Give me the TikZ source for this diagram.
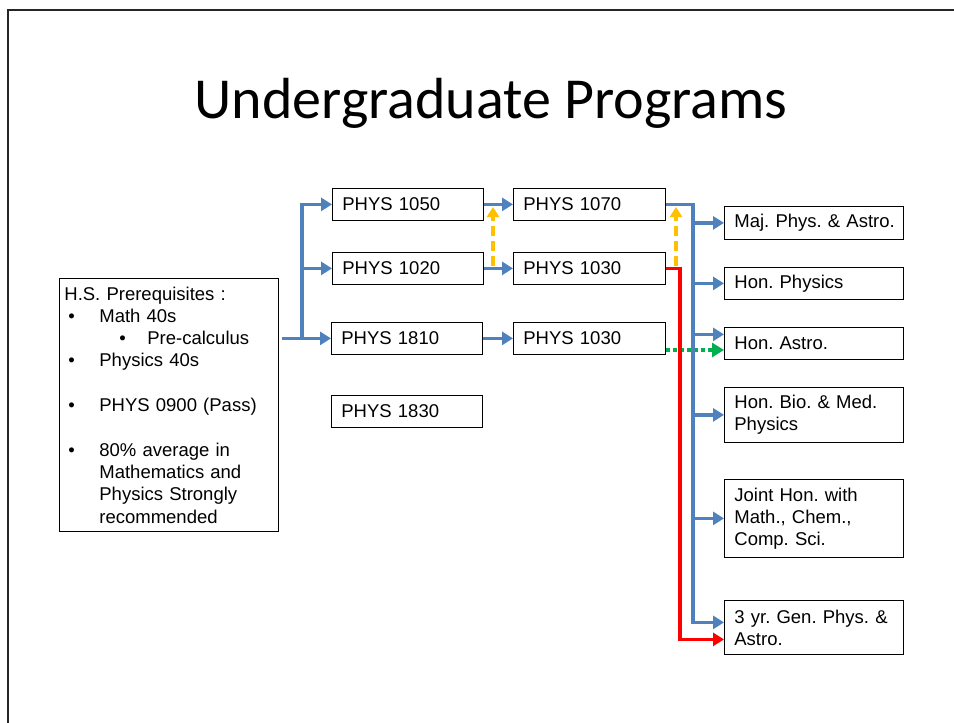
\documentclass[tikz,border=0pt]{standalone}
\usepackage{fontspec}
\setmainfont{Liberation Sans}
\newfontfamily\titlefont{Carlito}
\usetikzlibrary{arrows.meta,calc}
\definecolor{flowblue}{HTML}{4F81BD}
\definecolor{flowred}{HTML}{FF0000}
\definecolor{flowyellow}{HTML}{FFC000}
\definecolor{flowgreen}{HTML}{00B050}
\frenchspacing
\hyphenpenalty=10000
\exhyphenpenalty=10000
\hbadness=10000
\hfuzz=20pt
\begin{document}
\begin{tikzpicture}[x=1pt,y=-1pt,
  box/.style={draw=black, line width=0.8pt, anchor=north west, inner xsep=10pt, inner ysep=0pt,
    align=left, font=\fontsize{18.5}{22}\selectfont\frenchspacing},
  lbox/.style={box, text width=131pt, minimum height=32pt},
  mbox/.style={box, text width=132pt, minimum height=32pt},
  rbox/.style={box, text width=159pt},
  blueline/.style={draw=flowblue, line width=3.5pt},
  bluearrow/.style={blueline, -{Triangle[length=11pt,width=13pt]}},
  redarrow/.style={draw=flowred, line width=3.5pt, -{Triangle[length=11pt,width=13pt]}},
  yellowarrow/.style={draw=flowyellow, line width=3.5pt, dash pattern=on 10pt off 5pt, -{Triangle[length=10pt,width=12pt]}},
  greenarrow/.style={draw=flowgreen, line width=3.5pt, dash pattern=on 4pt off 3pt, -{Triangle[length=12pt,width=14pt]}}
]
\useasboundingbox[fill=white] (0,0) rectangle (954,723);
% slide frame
\draw[line width=2.5pt, black!85] (8,723) -- (8,10) -- (954,10);

% title
\node[font=\titlefont\fontsize{58}{58}\selectfont, anchor=base, inner sep=0pt] (title) at (491,118) {Undergraduate Programs};

% prerequisites
\node[draw=black, line width=0.8pt, anchor=north west, minimum height=253pt, text width=209pt,
  inner xsep=5pt, inner ysep=0pt, align=left, font=\fontsize{18.5}{22.3}\selectfont\frenchspacing] (pre) at (59,278)
{H.S. Prerequisites :\\
\hspace*{4pt}\makebox[31pt][l]{\textbullet}Math 40s\\
\hspace*{55pt}\makebox[28pt][l]{\textbullet}Pre-calculus\\
\hspace*{4pt}\makebox[31pt][l]{\textbullet}Physics 40s\\[22.3pt]
\hspace*{4pt}\makebox[31pt][l]{\textbullet}PHYS 0900 (Pass)\\[22.3pt]
\hspace*{4pt}\makebox[31pt][l]{\textbullet}80\% average in\\
\hspace*{35pt}Mathematics and\\
\hspace*{35pt}Physics Strongly\\
\hspace*{35pt}recommended};

% first-year courses
\node[lbox] (p1050) at (332,188) {PHYS 1050};
\node[lbox] (p1020) at (332,252) {PHYS 1020};
\node[lbox] (p1810) at (331,322) {PHYS 1810};
\node[lbox] (p1830) at (331,395) {PHYS 1830};

% second column
\node[mbox] (p1070) at (513,188) {PHYS 1070};
\node[mbox] (p1030a) at (513,252) {PHYS 1030};
\node[mbox] (p1030b) at (513,322) {PHYS 1030};

% programs
\node[rbox, minimum height=33pt] (maj) at (724,206) {\mbox{Maj. Phys. \& Astro.}};
\node[rbox, minimum height=32pt] (honp) at (724,267) {Hon. Physics};
\node[rbox, minimum height=32pt] (hona) at (724,327) {Hon. Astro.};
\node[rbox, minimum height=55pt] (bio) at (724,387) {\mbox{Hon. Bio. \& Med.}\\Physics};
\node[rbox, minimum height=78pt] (joint) at (724,479) {Joint Hon. with\\Math., Chem.,\\Comp. Sci.};
\node[rbox, minimum height=54pt] (gen) at (724,600) {\mbox{3 yr. Gen. Phys. \&}\\Astro.};

% left tree
\coordinate (j1) at (302,0);
\coordinate (prestart) at ([xshift=3pt]pre.east |- p1810.west);
\draw[blueline] (prestart) -- (j1 |- p1810.west);
\draw[bluearrow] (j1 |- p1810.west) -- (p1810.west);
\draw[bluearrow] (j1 |- p1810.west) |- (p1050.west);
\draw[bluearrow] (j1 |- p1020.west) -- (p1020.west);

% middle arrows
\draw[bluearrow] (p1050.east) -- (p1070.west);
\draw[bluearrow] (p1020.east) -- (p1030a.west);
\draw[bluearrow] (p1810.east) -- (p1030b.west |- p1810.east);

% green dotted
\draw[greenarrow] (p1030b.east |- 0,350) -- (hona.west |- 0,350);

% red path
\coordinate (redx) at (680,0);
\draw[redarrow] (p1030a.east) -| ([yshift=-12pt]gen.west -| redx) -- ([yshift=-12pt]gen.west);

% blue bus
\coordinate (busx) at (693,0);
\draw[bluearrow] (p1070.east) -| ([yshift=5pt]gen.west -| busx) -- ([yshift=5pt]gen.west);
\draw[bluearrow] (maj.west -| busx) -- (maj.west);
\draw[bluearrow] (honp.west -| busx) -- (honp.west);
\draw[bluearrow] ([yshift=9pt]hona.west -| busx) -- ([yshift=9pt]hona.west);
\draw[bluearrow] (bio.west -| busx) -- (bio.west);
\draw[bluearrow] (joint.west -| busx) -- (joint.west);

% yellow dashed
\coordinate (y1s) at (493,266);
\coordinate (y1e) at (493,207);
\draw[yellowarrow] (y1s) -- (y1e);
\coordinate (y2s) at (676,266);
\coordinate (y2e) at (676,207);
\draw[yellowarrow] (y2s) -- (y2e);
\end{tikzpicture}
\end{document}
